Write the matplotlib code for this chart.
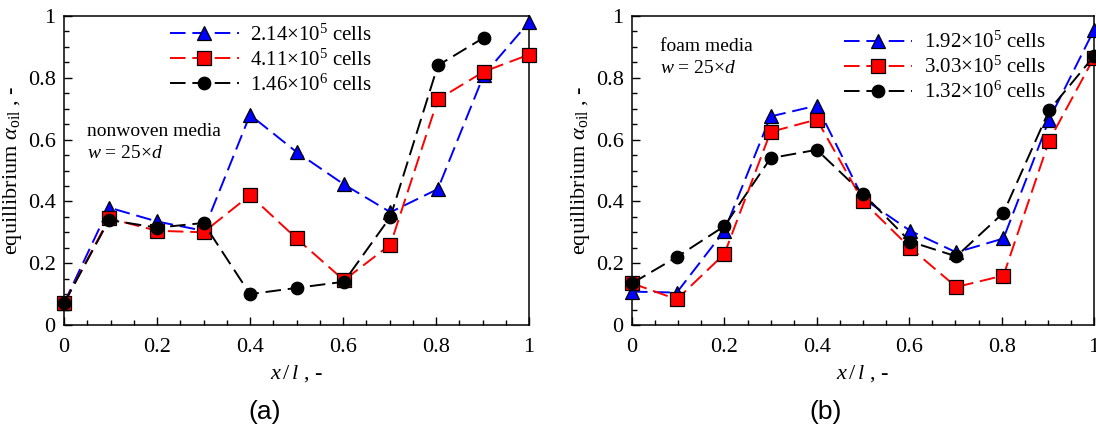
import matplotlib
matplotlib.use("Agg")
import matplotlib.pyplot as plt
from matplotlib.ticker import MultipleLocator

# ---- data ----
x_pos = [0.0, 0.097, 0.2, 0.3, 0.4, 0.5, 0.602, 0.702, 0.804, 0.903, 1.0]

a_labels = [r"2.14$\times$10$^5$ cells", r"4.11$\times$10$^5$ cells", r"1.46$\times$10$^6$ cells"]
a_blue = [0.07, 0.38, 0.335, 0.305, 0.68, 0.56, 0.455, 0.365, 0.44, 0.81, 0.98]
a_red = [0.07, 0.345, 0.305, 0.30, 0.42, 0.28, 0.145, 0.26, 0.73, 0.82, 0.875]
a_black = [0.07, 0.34, 0.315, 0.33, 0.10, 0.12, 0.14, 0.35, 0.84, 0.93]

b_labels = [r"1.92$\times$10$^5$ cells", r"3.03$\times$10$^5$ cells", r"1.32$\times$10$^6$ cells"]
b_blue = [0.108, 0.105, 0.305, 0.675, 0.71, 0.41, 0.305, 0.235, 0.28, 0.665, 0.955]
b_red = [0.135, 0.083, 0.23, 0.625, 0.665, 0.40, 0.25, 0.123, 0.16, 0.597, 0.865]
b_black = [0.135, 0.22, 0.32, 0.54, 0.567, 0.425, 0.27, 0.222, 0.363, 0.695, 0.87]

tick_vals = [0, 0.2, 0.4, 0.6, 0.8, 1]
tick_labels = ["0", "0.2", "0.4", "0.6", "0.8", "1"]

plt.rcParams['font.family'] = ['Liberation Serif', 'DejaVu Serif']
plt.rcParams['mathtext.fontset'] = 'custom'
plt.rcParams['mathtext.rm'] = 'Liberation Serif'
plt.rcParams['mathtext.it'] = 'Liberation Serif:italic'

fig = plt.figure(figsize=(10.96, 4.38), dpi=100)
ax1 = fig.add_axes([64/1096, 1-325/438, 465/1096, 309/438])
ax2 = fig.add_axes([632/1096, 1-325/438, 462/1096, 309/438])

dash = (0, (8, 3.5))
styles = [("blue", "^", "blue"), ("red", "s", "red"), ("black", "o", "black")]

def panel(ax, series, labels, legend_anchor, note_xy):
    for (lc, m, fc), ys, lab in zip(styles, series, labels):
        ax.plot(x_pos[:len(ys)], ys, linestyle=dash, color=lc, lw=1.4,
                marker=m, markersize=9.5 if m != "o" else 9,
                markerfacecolor=fc, markeredgecolor="black", markeredgewidth=0.9,
                label=lab, clip_on=False, zorder=3)
    ax.set_xlim(0, 1)
    ax.set_ylim(0, 1)
    ax.set_xticks(tick_vals)
    ax.set_xticklabels(tick_labels)
    ax.set_yticks(tick_vals)
    ax.set_yticklabels(tick_labels)
    ax.xaxis.set_minor_locator(MultipleLocator(0.05))
    ax.yaxis.set_minor_locator(MultipleLocator(0.05))
    ax.tick_params(which='both', direction='in', top=False, right=False,
                   labelsize=16)
    ax.tick_params(axis='y', pad=6)
    ax.tick_params(axis='x', pad=9)
    ax.tick_params(which='major', length=6, width=1)
    ax.tick_params(which='minor', length=3.5, width=1)
    for s in ax.spines.values():
        s.set_linewidth(1.1)
    ax.set_xlabel(r"$x\,/\,l$ , -", fontsize=16, labelpad=5)
    ax.set_ylabel(r"equillibrium $\alpha_{\rm oil}$ , -", fontsize=16, labelpad=3)
    ax.legend(loc="upper left", bbox_to_anchor=legend_anchor, frameon=False,
              fontsize=15, handlelength=3.3, handletextpad=0.55,
              labelspacing=0.18, borderaxespad=0)
    ax.text(note_xy[0], note_xy[1], note_xy[2], transform=ax.transAxes,
            fontsize=14, va='top', ha='left', linespacing=1.45)

panel(ax1, [a_blue, a_red, a_black], a_labels, (0.21, 1.0),
      (0.05, 0.655, "nonwoven media\n" + r"$w$ = 25×$d$"))
panel(ax2, [b_blue, b_red, b_black], b_labels, (0.44, 0.975),
      (0.06, 0.93, "foam media\n" + r"$w$ = 25×$d$"))

fig.text(265/1096, 1-412/438, "(a)", fontsize=19, family='Liberation Sans', ha='center', va='center')
fig.text(826/1096, 1-412/438, "(b)", fontsize=19, family='Liberation Sans', ha='center', va='center')

fig.savefig("out.png", dpi=100)
